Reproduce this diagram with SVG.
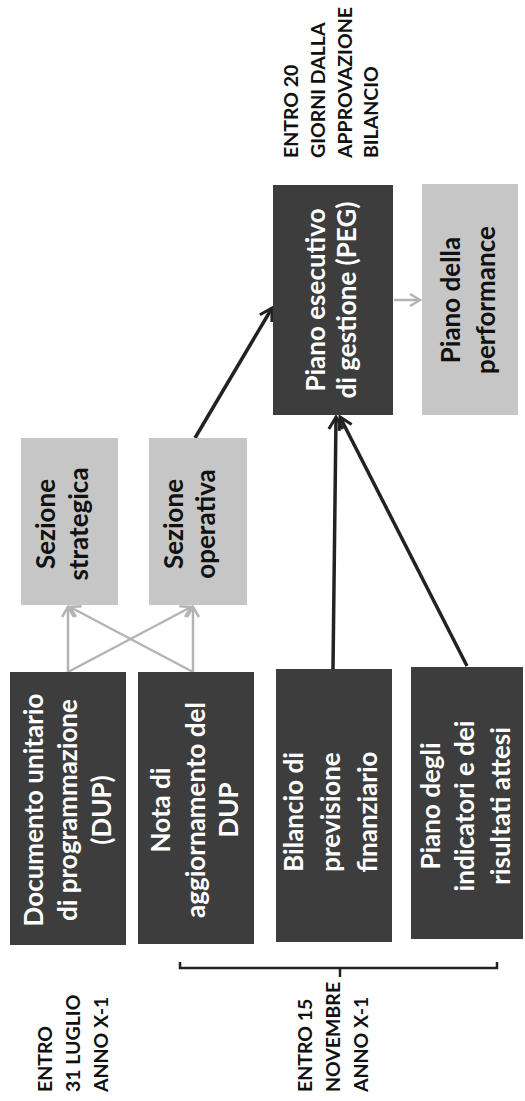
<svg xmlns="http://www.w3.org/2000/svg" width="525" height="1101" viewBox="0 0 525 1101">
<style>
  .dark { fill: #3d3d3d; }
  .light { fill: #c6c6c6; }
  .wt { font-family: "Lato", "Open Sans", sans-serif; font-weight: bold; font-size: 26px; fill: #ffffff; text-anchor: middle; }
  .bt { font-family: "Lato", "Open Sans", sans-serif; font-weight: bold; font-size: 26px; fill: #111111; text-anchor: middle; }
  .lbl { font-family: "Lato", "Open Sans", sans-serif; font-weight: bold; font-size: 19.5px; fill: #111111; text-anchor: start; }
  .blk { stroke: #222222; stroke-width: 3.5; fill: none; }
  .gry { stroke: #b4b4b4; stroke-width: 2.5; fill: none; }
</style>
<defs>
  <marker id="ab" markerUnits="userSpaceOnUse" markerWidth="18" markerHeight="18" refX="14" refY="9" orient="auto">
    <path d="M2,2 L14,9 L2,16" fill="none" stroke="#222222" stroke-width="3"/>
  </marker>
  <marker id="ag" markerUnits="userSpaceOnUse" markerWidth="16" markerHeight="16" refX="12" refY="8" orient="auto">
    <path d="M2,2 L12,8 L2,14" fill="none" stroke="#b4b4b4" stroke-width="2.5"/>
  </marker>
</defs>
<rect width="525" height="1101" fill="#ffffff"/>

<g id="connectors">
  <line class="gry" x1="68" y1="672" x2="68" y2="607" marker-end="url(#ag)"/>
  <line class="gry" x1="68" y1="672" x2="191" y2="607" marker-end="url(#ag)"/>
  <line class="gry" x1="193" y1="672" x2="193" y2="607" marker-end="url(#ag)"/>
  <line class="gry" x1="193" y1="672" x2="70" y2="607" marker-end="url(#ag)"/>
  <line class="blk" x1="195" y1="438" x2="272" y2="308" marker-end="url(#ab)"/>
  <line class="blk" x1="333" y1="669" x2="336" y2="417" marker-end="url(#ab)"/>
  <line class="blk" x1="467" y1="666" x2="340" y2="417" marker-end="url(#ab)"/>
  <line class="gry" x1="394" y1="300" x2="420" y2="300" marker-end="url(#ag)"/>
  <path id="brace" d="M180,962 L180,968 L497,968 L497,962 M340,968 L340,977" stroke="#222222" stroke-width="2.5" fill="none"/>
</g>

<g id="dup">
  <rect class="dark" x="10" y="672" width="116" height="273"/>
  <text class="wt" transform="translate(0,810) rotate(-90)"><tspan x="0" y="43">Documento unitario</tspan><tspan x="0" y="77">di programmazione</tspan><tspan x="0" y="111">(DUP)</tspan></text>
</g>
<g id="nota">
  <rect class="dark" x="138" y="672" width="116" height="272"/>
  <text class="wt" transform="translate(0,810) rotate(-90)"><tspan x="0" y="170">Nota di</tspan><tspan x="0" y="205">aggiornamento del</tspan><tspan x="0" y="238">DUP</tspan></text>
</g>
<g id="bilancio">
  <rect class="dark" x="276" y="669" width="116" height="273"/>
  <text class="wt" transform="translate(0,812) rotate(-90)"><tspan x="0" y="303">Bilancio di</tspan><tspan x="0" y="340">previsione</tspan><tspan x="0" y="377">finanziario</tspan></text>
</g>
<g id="indicatori">
  <rect class="dark" x="411" y="667" width="112" height="272"/>
  <text class="wt" transform="translate(0,806) rotate(-90)"><tspan x="0" y="440">Piano degli</tspan><tspan x="0" y="474">indicatori e dei</tspan><tspan x="0" y="510">risultati attesi</tspan></text>
</g>
<g id="sez-strategica">
  <rect class="light" x="21" y="438" width="97" height="167"/>
  <text class="bt" transform="translate(0,524) rotate(-90)"><tspan x="0" y="55">Sezione</tspan><tspan x="0" y="88">strategica</tspan></text>
</g>
<g id="sez-operativa">
  <rect class="light" x="149" y="438" width="98" height="167"/>
  <text class="bt" transform="translate(0,524) rotate(-90)"><tspan x="0" y="183">Sezione</tspan><tspan x="0" y="215">operativa</tspan></text>
</g>
<g id="peg">
  <rect class="dark" x="273" y="185" width="120" height="230"/>
  <text class="wt" transform="translate(0,300) rotate(-90)"><tspan x="0" y="325">Piano esecutivo</tspan><tspan x="0" y="356">di gestione (PEG)</tspan></text>
</g>
<g id="performance">
  <rect class="light" x="422" y="184" width="96" height="231"/>
  <text class="bt" transform="translate(0,300) rotate(-90)"><tspan x="0" y="460">Piano della</tspan><tspan x="0" y="495">performance</tspan></text>
</g>

<g id="label-peg">
  <text class="lbl" transform="translate(0,158) rotate(-90)"><tspan x="0" y="298">ENTRO 20</tspan><tspan x="0" y="325">GIORNI DALLA</tspan><tspan x="0" y="352">APPROVAZIONE</tspan><tspan x="0" y="378">BILANCIO</tspan></text>
</g>
<g id="label-luglio">
  <text class="lbl" transform="translate(0,1092) rotate(-90)"><tspan x="0" y="52">ENTRO</tspan><tspan x="0" y="80">31 LUGLIO</tspan><tspan x="0" y="108">ANNO X-1</tspan></text>
</g>
<g id="label-novembre">
  <text class="lbl" transform="translate(0,1092) rotate(-90)"><tspan x="0" y="312">ENTRO 15</tspan><tspan x="0" y="340">NOVEMBRE</tspan><tspan x="0" y="368">ANNO X-1</tspan></text>
</g>
</svg>
